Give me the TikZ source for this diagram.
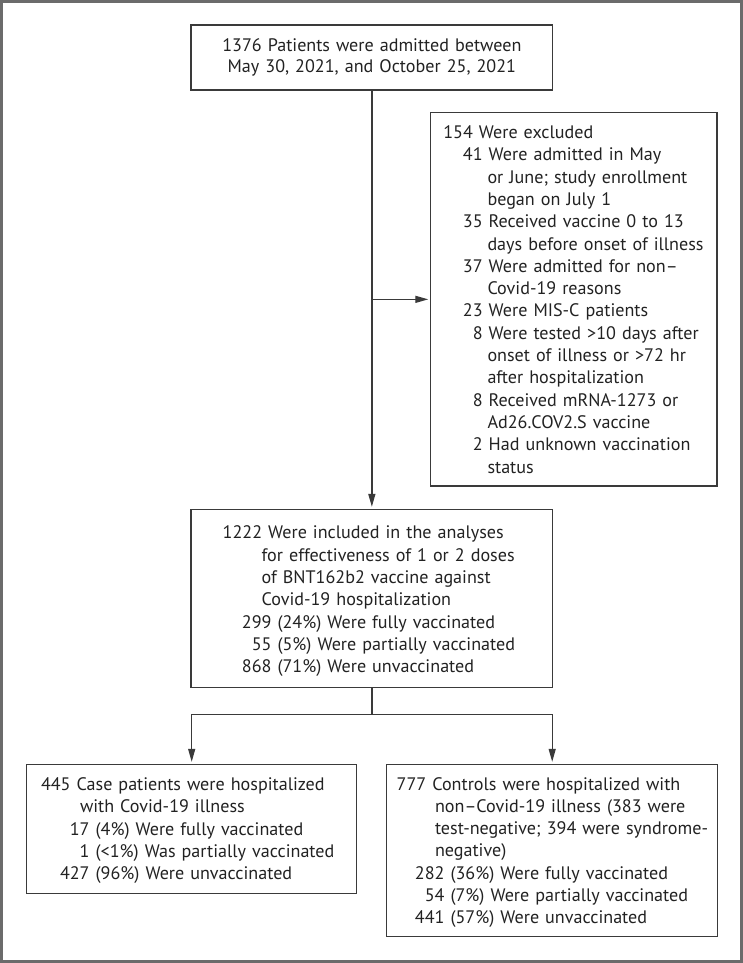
\documentclass[tikz,border=0pt]{standalone}
\usepackage{fontspec}
\setmainfont{PT Sans}
\usetikzlibrary{arrows.meta}
\definecolor{framec}{HTML}{6B6B6B}
\definecolor{boxline}{HTML}{3A3A3A}
\definecolor{txt}{HTML}{222222}
\newcommand\nr[2]{\hbox to #1{\hss #2}}
\newcommand\rows[2][2pt]{\raisebox{-#1}[\height][\depth]{\begin{tabular}{@{}l@{}}#2\end{tabular}}}
\begin{document}
\begin{tikzpicture}[x=1pt,y=-1pt,
  every node/.style={text=txt,font=\fontsize{18.1}{22.3}\selectfont},
  box/.style={draw=boxline,line width=1.3pt,inner ysep=0pt,align=left},
  conn/.style={draw=boxline,line width=1.3pt},
  arr/.style={conn,-{Triangle[length=13pt,width=7pt]},shorten >=1.8pt}]
\useasboundingbox (0,0) rectangle (743,963);
\draw[framec,line width=2.7pt] (1.35,1.35) rectangle (741.65,961.65);

\node[box,align=center,inner xsep=0pt,text width=361.7pt,minimum height=65pt,
      font=\fontsize{18.1}{21.5}\selectfont] (top) at (371.85,57.6)
  {1376 Patients were admitted between\\May 30, 2021, and October 25, 2021};

\node[box,inner xsep=12.6pt,text width=261.1pt,minimum height=373.3pt] (excl) at (573.85,299.35)
  {\rows{%
   154 Were excluded\\
   \nr{39.4pt}{41} Were admitted in May\\
   \hspace*{44.2pt}or June; study enrollment\\
   \hspace*{44.2pt}began on July 1\\
   \nr{39.4pt}{35} Received vaccine 0 to 13\\
   \hspace*{44.2pt}days before onset of illness\\
   \nr{39.4pt}{37} Were admitted for non–\\
   \hspace*{44.2pt}Covid-19 reasons\\
   \nr{39.4pt}{23} Were MIS-C patients\\
   \nr{39.4pt}{8} Were tested >10 days after\\
   \hspace*{44.2pt}onset of illness or >72 hr\\
   \hspace*{44.2pt}after hospitalization\\
   \nr{39.4pt}{8} Received mRNA-1273 or\\
   \hspace*{44.2pt}Ad26.COV2.S vaccine\\
   \nr{39.4pt}{2} Had unknown vaccination\\
   \hspace*{44.2pt}status}};

\node[box,inner xsep=31.7pt,text width=298.3pt,minimum height=178pt] (mid) at (371.85,598.3)
  {\rows[3pt]{%
   1222 Were included in the analyses\\
   \hspace*{38.9pt}for effectiveness of 1 or 2 doses\\
   \hspace*{38.9pt}of BNT162b2 vaccine against\\
   \hspace*{38.9pt}Covid-19 hospitalization\\
   \nr{48.8pt}{299} (24\%) Were fully vaccinated\\
   \nr{48.8pt}{55} (5\%) Were partially vaccinated\\
   \nr{48.8pt}{868} (71\%) Were unvaccinated}};

\node[box,inner xsep=14.3pt,text width=301.4pt,minimum height=129pt] (left) at (191.7,828.8)
  {\rows{%
   445 Case patients were hospitalized\\
   \hspace*{39pt}with Covid-19 illness\\
   \nr{48.6pt}{17} (4\%) Were fully vaccinated\\
   \nr{48.6pt}{1} (<1\%) Was partially vaccinated\\
   \nr{48.6pt}{427} (96\%) Were unvaccinated}};

\node[box,inner xsep=10pt,text width=311pt,minimum height=172.4pt] (right) at (552.2,850.5)
  {\rows{%
   777 Controls were hospitalized with\\
   \hspace*{38.3pt}non–Covid-19 illness (383 were\\
   \hspace*{38.3pt}test-negative; 394 were syndrome-\\
   \hspace*{38.3pt}negative)\\
   \nr{47.8pt}{282} (36\%) Were fully vaccinated\\
   \nr{47.8pt}{54} (7\%) Were partially vaccinated\\
   \nr{47.8pt}{441} (57\%) Were unvaccinated}};

\coordinate (br) at (371.85,714.3);
\draw[arr] (top.south) -- (mid.north);
\draw[arr] (top.south |- excl.west) -- (excl.west);
\draw[conn] (mid.south) -- (br);
\draw[arr] (br) -| (left.north);
\draw[arr] (br) -| (right.north);
\end{tikzpicture}
\end{document}
